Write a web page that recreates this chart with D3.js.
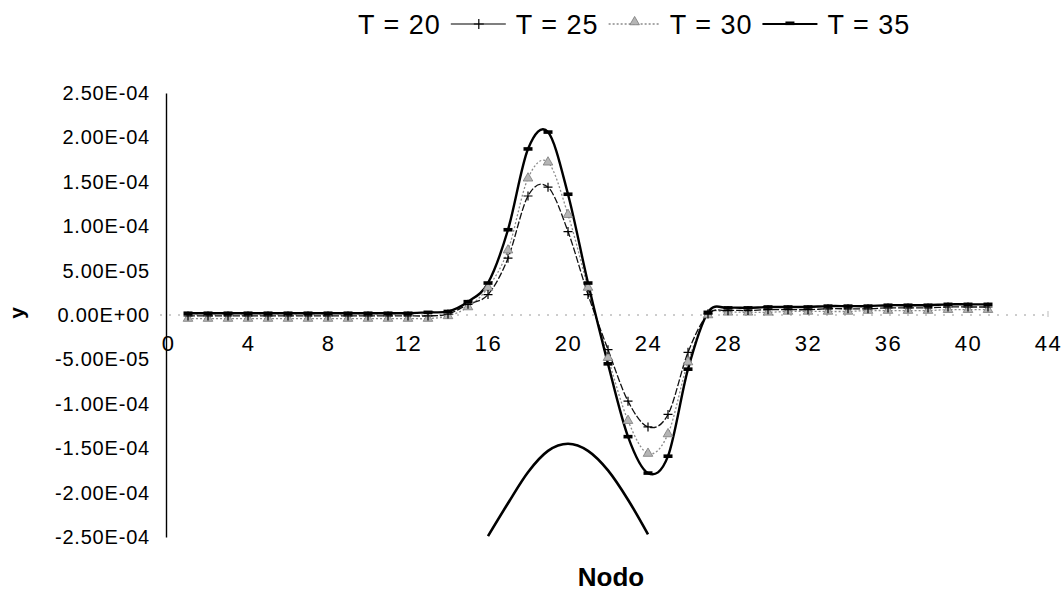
<!DOCTYPE html>
<html><head><meta charset="utf-8">
<script src="https://cdn.jsdelivr.net/npm/d3@7"></script>
<style>
html,body{margin:0;padding:0;background:#fff;}
text{font-family:"Liberation Sans",Arial,sans-serif;fill:#000;}
</style></head>
<body>
<svg id="chart" width="1062" height="591"></svg>
<script>
// ---------- data (values in units of 1e-5) ----------
const nodes = d3.range(1, 42);            // 1 .. 41
const t25 = [-0.1,-0.1,-0.1,-0.1,-0.1,-0.1,-0.1,-0.1,-0.1,-0.1,-0.1,-0.1,-0.1,
             0.1,1.2,2.3,6.4,13.4,14.4,9.4,2.3,-3.9,-9.7,-12.6,-11.2,-4.2,0.1,
             0.5,0.5,0.6,0.6,0.6,0.7,0.7,0.7,0.8,0.8,0.8,0.9,0.9,0.9];
const t30 = [-0.4,-0.4,-0.4,-0.4,-0.4,-0.4,-0.4,-0.4,-0.4,-0.4,-0.4,-0.4,-0.4,
             -0.1,0.9,3.1,7.3,15.4,17.2,11.3,3.1,-4.8,-11.9,-15.6,-13.4,-5.3,0.0,
             0.3,0.3,0.3,0.4,0.4,0.4,0.4,0.5,0.5,0.5,0.5,0.6,0.6,0.6];
const t35 = [0.2,0.2,0.2,0.2,0.2,0.2,0.2,0.2,0.2,0.2,0.2,0.2,0.3,
             0.4,1.5,3.6,9.6,18.7,20.6,13.6,3.6,-5.5,-13.7,-17.8,-15.9,-6.1,0.3,
             0.8,0.8,0.9,0.9,0.9,1.0,1.0,1.0,1.1,1.1,1.1,1.2,1.2,1.2];
const t20Nodes = [16,17,18,19,20,21,22,23,24];
const t20 = [-24.9,-21.2,-17.7,-15.3,-14.5,-15.3,-17.5,-20.8,-24.7];
const xTicks = [0,4,8,12,16,20,24,28,32,36,40,44];
const yTicks = [-25,-20,-15,-10,-5,0,5,10,15,20,25];
const legendLabels = ["T = 20","T = 25","T = 30","T = 35"];
const SCALE = 1e-5;

// ---------- layout ----------
const svg = d3.select("#chart");
const x = d3.scaleLinear().domain([0,44]).range([168,1048]);
const y = d3.scaleLinear().domain([-25*SCALE, 25*SCALE]).range([537,93]);

function sci(v){
  if (Math.abs(v) < 1e-12) return "0.00E+00";
  let s = v.toExponential(2).toUpperCase();   // 2.50E-4
  return s.replace(/E([+-])(\d)$/, "E$10$2");
}

// clip for plot area
svg.append("defs").append("clipPath").attr("id","plotclip")
  .append("rect").attr("x",166).attr("y",93).attr("width",890).attr("height",444);

// zero line (dotted, faint)
svg.append("line").attr("x1",160).attr("x2",1048)
  .attr("y1",y(0)).attr("y2",y(0))
  .attr("stroke","#9a9a9a").attr("stroke-width",1).attr("stroke-dasharray","2,7");
svg.append("line").attr("x1",x(44)).attr("x2",x(44)).attr("y1",y(0)-4).attr("y2",y(0)+2)
  .attr("stroke","#bbb").attr("stroke-width",1);

// y axis
const yAxis = d3.axisLeft(y).tickValues(yTicks.map(v=>v*SCALE)).tickFormat(sci)
  .tickSize(0).tickPadding(16);
const gy = svg.append("g").attr("transform","translate(166,0)").call(yAxis);
gy.select(".domain").attr("stroke","#000").attr("stroke-width",1.4);
gy.selectAll("text").style("font-size","20px").style("letter-spacing","0.8px")
  .attr("font-family",null);

// x axis labels
const xAxis = d3.axisBottom(x).tickValues(xTicks).tickFormat(d3.format("d"))
  .tickSize(0).tickPadding(20);
const gx = svg.append("g").attr("transform",`translate(0,${y(0)})`).call(xAxis);
gx.select(".domain").remove();
gx.selectAll("text").style("font-size","22px").style("letter-spacing","1.5px")
  .attr("font-family",null);

// titles
svg.append("text").attr("x",611).attr("y",586).attr("text-anchor","middle")
  .style("font-size","26px").style("font-weight","bold").text("Nodo");
svg.append("text").attr("transform","translate(24,313) rotate(-90)")
  .attr("text-anchor","middle").style("font-size","21px").style("font-weight","bold").text("y");

// ---------- series ----------
const plot = svg.append("g").attr("clip-path","url(#plotclip)");
const curve = d3.curveCardinal.tension(0);
const line = d3.line().x(d=>x(d[0])).y(d=>y(d[1]*SCALE)).curve(curve);

const pts = arr => nodes.map((n,i)=>[n,arr[i]]);

// T = 20 (parabola, clipped)
plot.append("path").datum(t20Nodes.map((n,i)=>[n,t20[i]])).attr("d",line)
  .attr("fill","none").attr("stroke","#000").attr("stroke-width",2.6);

// T = 30 (dotted gray, triangles)
plot.append("path").datum(pts(t30)).attr("d",line).attr("fill","none")
  .attr("stroke","#8a8a8a").attr("stroke-width",1.3).attr("stroke-dasharray","2,2");
// T = 25 (thin dashed black, +)
plot.append("path").datum(pts(t25)).attr("d",line).attr("fill","none")
  .attr("stroke","#111").attr("stroke-width",1.3).attr("stroke-dasharray","7,2");
// T = 35 (thick solid)
plot.append("path").datum(pts(t35)).attr("d",line).attr("fill","none")
  .attr("stroke","#000").attr("stroke-width",2.4);

const tri = d3.symbol().type(d3.symbolTriangle).size(40);
plot.selectAll(".tri").data(pts(t30)).join("path").attr("class","tri")
  .attr("d",tri).attr("transform",d=>`translate(${x(d[0])},${y(d[1]*SCALE)})`)
  .attr("fill","#b5b5b5").attr("stroke","#7a7a7a").attr("stroke-width",0.8);
plot.selectAll(".plus").data(pts(t25)).join("path").attr("class","plus")
  .attr("d",d=>{const cx=x(d[0]),cy=y(d[1]*SCALE);return `M${cx-4.5},${cy}H${cx+4.5}M${cx},${cy-4.5}V${cy+4.5}`;})
  .attr("stroke","#000").attr("stroke-width",1.2).attr("fill","none");
plot.selectAll(".dash").data(pts(t35)).join("rect").attr("class","dash")
  .attr("x",d=>x(d[0])-4.5).attr("y",d=>y(d[1]*SCALE)-1.8).attr("width",9).attr("height",3.6)
  .attr("fill","#000");

// ---------- legend ----------
const lg = svg.append("g").attr("transform","translate(0,24)");
const symDraw = [
  null,
  g=>{ g.append("line").attr("x1",0).attr("x2",55).attr("stroke","#000").attr("stroke-width",1.2);
       g.append("path").attr("d","M23,0H33M28,-5V5").attr("stroke","#000").attr("stroke-width",1.2); },
  g=>{ g.append("line").attr("x1",0).attr("x2",51).attr("stroke","#8a8a8a").attr("stroke-width",1.3).attr("stroke-dasharray","2,2");
       g.append("path").attr("d",tri).attr("transform","translate(26,-2)").attr("fill","#b5b5b5").attr("stroke","#7a7a7a").attr("stroke-width",0.8); },
  g=>{ g.append("line").attr("x1",0).attr("x2",55).attr("stroke","#000").attr("stroke-width",2);
       g.append("rect").attr("x",23).attr("y",-2.5).attr("width",9).attr("height",3.6).attr("fill","#000"); }
];
let cx = 358;
legendLabels.forEach((lab,i)=>{
  if (symDraw[i]) {
    const g = lg.append("g").attr("transform",`translate(${cx+10},0)`);
    symDraw[i](g);
    cx += 10 + (i===2?51:55) + 10;
  }
  const t = lg.append("text").attr("x",cx).attr("y",0).attr("dy","0.36em")
    .style("font-size","27px").style("letter-spacing","1px").text(lab);
  cx += t.node().getComputedTextLength();
});
</script>
</body></html>
